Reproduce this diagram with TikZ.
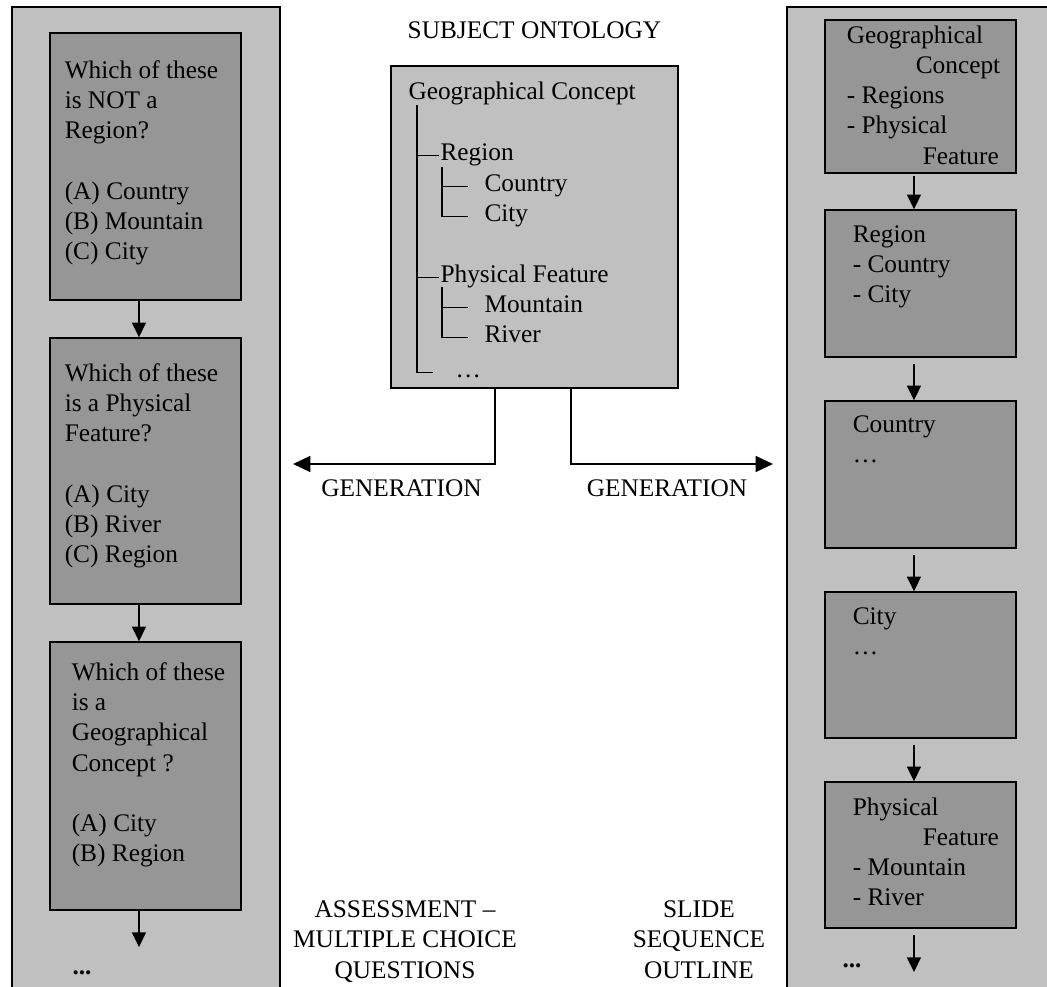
\documentclass[tikz,border=0pt]{standalone}
\usepackage{fontspec}
\setmainfont{Liberation Serif}
\usetikzlibrary{arrows.meta}

\definecolor{panelgray}{RGB}{192,192,192}
\definecolor{cardgray}{RGB}{150,150,150}

\tikzset{every picture/.style={line width=0.75pt}}
\tikzset{
  panel/.style={draw, line width=1.5pt, fill=panelgray, inner sep=0pt},
  card/.style={draw, line width=1.1pt, fill=cardgray, inner sep=0pt, minimum width=143.25pt},
  ontobox/.style={draw, line width=1.3pt, fill=panelgray, inner sep=0pt},
  txt/.style={inner sep=0pt, align=left, anchor=base west, font=\fontsize{19}{22.7}\selectfont},
  block/.style={txt, anchor=north west},
  treelbl/.style={txt, text height=12.6pt, text depth=4pt},
  caption/.style={inner sep=0pt, align=center, anchor=base, font=\fontsize{19}{22.7}\selectfont},
  captionblock/.style={caption, anchor=north},
  flow/.style={-{Triangle[length=11pt,width=10.5pt]}, line width=1pt, transform canvas={xshift=-4.9pt}},
  gen/.style={-{Triangle[length=13pt,width=12pt]}, line width=1pt},
  tree/.style={line width=1pt}
}

\begin{document}
\begin{tikzpicture}[x=0.75pt,y=0.75pt,yscale=-1,xscale=1]
\useasboundingbox (0,0) rectangle (1047,987);

% panels
\node[panel, minimum width=201pt, minimum height=752.25pt] (assess) at (146,508.5) {};
\node[panel, minimum width=204.75pt, minimum height=752.25pt] (slides) at (923.5,508.5) {};

% ontology box
\node[ontobox, minimum width=215.25pt, minimum height=241.5pt] (onto) at (534.5,227) {};
\node[caption] (ontotitle) at (534.5,39) {SUBJECT ONTOLOGY};

\node[treelbl] (gc) at (408,100) {Geographical Concept};
\node[treelbl] (reg) at (440,161) {Region};
\node[treelbl] (cou) at (484,192) {Country};
\node[treelbl] (cit) at (484,222) {City};
\node[treelbl] (phy) at (440,283) {Physical Feature};
\node[treelbl] (mou) at (484,313) {Mountain};
\node[treelbl] (riv) at (484,343) {River};
\node[treelbl] (etc) at (455,378) {…};

\coordinate (trunk) at (417,105);
\coordinate (regsub) at (442,167);
\coordinate (physub) at (442,287);
\draw[tree, shorten >=0.75pt] (trunk) |- (reg.west);
\draw[tree, shorten >=0.75pt] (trunk) |- (phy.west);
\draw[tree, shorten >=16.5pt] (trunk) |- (etc.west);
\draw[tree, shorten >=12pt] (regsub) |- (cou.west);
\draw[tree, shorten >=12pt] (regsub) |- (cit.west);
\draw[tree, shorten >=12pt] (physub) |- (mou.west);
\draw[tree, shorten >=12pt] (physub) |- (riv.west);

% generation arrows
\coordinate (genL) at (293,464);
\coordinate (genR) at (773,464);
\draw[gen] ([xshift=-29.6pt]onto.south) |- (genL);
\draw[gen] ([xshift=27.4pt]onto.south) |- (genR);
\node[caption] (genLtxt) at (401.5,497) {GENERATION};
\node[caption] (genRtxt) at (667,497) {GENERATION};

% questions
\node[card, minimum height=200.25pt] (q1) at (145.5,166.5) {};
\node[card, minimum height=199.5pt] (q2) at (145.5,471) {};
\node[card, minimum height=201pt] (q3) at (145.5,776) {};
\node[block] (q1txt) at ([shift={(15,27.7)}]q1.north west) {Which of these\\is NOT a\\Region?\\{}\\(A) Country\\(B) Mountain\\(C) City};
\node[block] (q2txt) at ([shift={(15,25.7)}]q2.north west) {Which of these\\is a Physical\\Feature?\\{}\\(A) City\\(B) River\\(C) Region};
\node[block] (q3txt) at ([shift={(22,20.7)}]q3.north west) {Which of these\\is a\\Geographical\\Concept ?\\{}\\(A) City\\(B) Region};
\coordinate (qend) at (145.5,947);
\draw[flow] (q1) -- (q2);
\draw[flow] (q2) -- (q3);
\draw[flow] (q3) -- (qend);
\node[txt] (qdots) at (72,974) {\textbf{...}};

% slides
\node[card, minimum height=114.75pt] (s1) at (920.5,96.5) {};
\node[card, minimum height=110.25pt] (s2) at (920.5,283.5) {};
\node[card, minimum height=110.25pt] (s3) at (920.5,474.5) {};
\node[card, minimum height=109.5pt] (s4) at (920.5,665) {};
\node[card, minimum height=109.5pt] (s5) at (920.5,855) {};
\node[block] (s1txt) at ([shift={(22,5.7)}]s1.north west) {Geographical\\\hspace*{51.75pt}Concept\\- Regions\\- Physical\\\hspace*{57pt}Feature};
\node[block] (s2txt) at ([shift={(28,15.7)}]s2.north west) {Region\\- Country\\- City};
\node[block] (s3txt) at ([shift={(28,14.7)}]s3.north west) {Country\\…};
\node[block] (s4txt) at ([shift={(28,15.7)}]s4.north west) {City\\…};
\node[block] (s5txt) at ([shift={(28,15.7)}]s5.north west) {Physical\\\hspace*{52.5pt}Feature\\- Mountain\\- River};
\coordinate (send) at (920.5,972);
\draw[flow, shorten <=2pt] (s1) -- (s2);
\draw[flow, shorten <=4.5pt] (s2) -- (s3);
\draw[flow, shorten <=4.5pt] (s3) -- (s4);
\draw[flow, shorten <=4.5pt] (s4) -- (s5);
\draw[flow, shorten <=5pt] (s5) -- (send);
\node[txt] (sdots) at (842,967) {\textbf{...}};

% captions
\node[captionblock] (assesstxt) at (405,900.2) {ASSESSMENT –\\MULTIPLE CHOICE\\QUESTIONS};
\node[captionblock] (slidetxt) at (699,900.2) {SLIDE\\SEQUENCE\\OUTLINE};

\end{tikzpicture}
\end{document}
